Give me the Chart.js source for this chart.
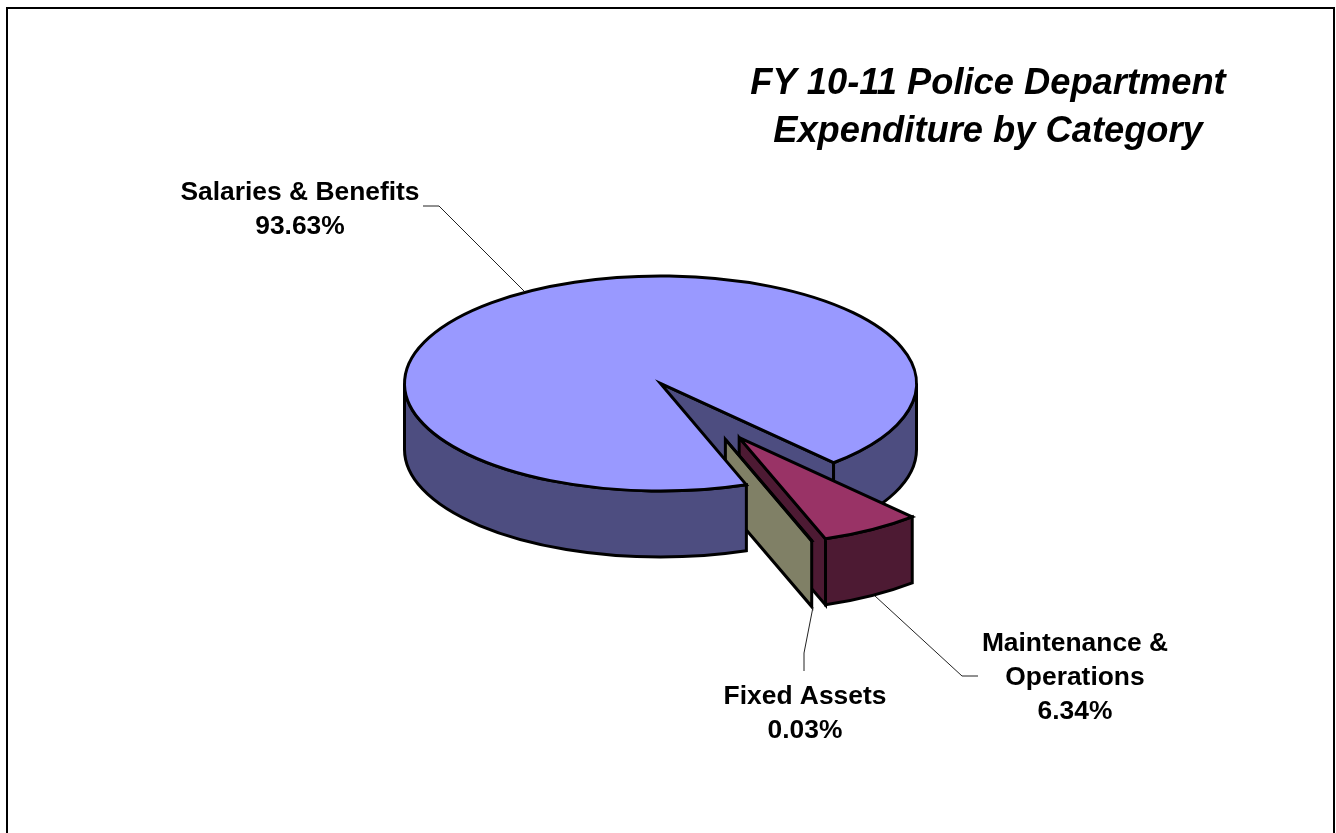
<!DOCTYPE html>
<html>
<head>
<meta charset="utf-8">
<title>FY 10-11 Police Department Expenditure by Category</title>
<script src="https://cdn.jsdelivr.net/npm/chart.js@4/dist/chart.umd.min.js"></script>
<style>
  html, body { margin: 0; padding: 0; background: #fff; }
  canvas { display: block; }
</style>
</head>
<body>
<canvas id="pie" width="1336" height="833"></canvas>
<script>
// Expenditure shares, in percent
const categories = ['Salaries & Benefits', 'Maintenance & Operations', 'Fixed Assets'];
const shares = [93.63, 6.34, 0.03];

// Slice colours: top face and darker side face
const topColors = ['#9999FF', '#993366', '#FFFFCC'];
const sideColors = ['#4D4D80', '#4D1A33', '#808066'];

// Label text lines, anchors and leader lines
const labelLines = [['Salaries & Benefits'], ['Maintenance &', 'Operations'], ['Fixed Assets']];
const labelAnchors = [[300, 192.5, 34], [1075, 643.5, 34], [805, 696.5, 34]];
const leaders = [
  [[423, 206], [439, 206], [524, 291]],
  [[875, 596], [962, 676], [978, 676]],
  [[813, 607], [804, 653], [804, 671]]
];

// Pie projection
const SQUASH = 0.42;
const DEPTH = 66;
const explodeAngle = [0, 58.6, 64];
const explodeDist = [0, 151, 148];
const TWO_PI = Math.PI * 2;

function sliceGeometry(arc, i) {
  const p = arc.getProps(['x', 'y', 'startAngle', 'endAngle', 'outerRadius'], true);
  const a = explodeAngle[i] * Math.PI / 180;
  return {
    x: p.x + Math.cos(a) * explodeDist[i],
    y: p.y + Math.sin(a) * explodeDist[i] * SQUASH,
    r: p.outerRadius,
    start: p.startAngle,
    end: p.endAngle
  };
}

function rim(g, angle) {
  return [g.x + Math.cos(angle) * g.r, g.y + Math.sin(angle) * g.r * SQUASH];
}

function paint(ctx, fill) {
  ctx.fillStyle = fill;
  ctx.fill();
  ctx.stroke();
}

// Outer wall of a slice between two angles
function drawWall(ctx, g, from, to, fill) {
  if (to <= from) return;
  const b = rim(g, to);
  ctx.beginPath();
  ctx.ellipse(g.x, g.y, g.r, g.r * SQUASH, 0, from, to);
  ctx.lineTo(b[0], b[1] + DEPTH);
  ctx.ellipse(g.x, g.y + DEPTH, g.r, g.r * SQUASH, 0, to, from, true);
  ctx.closePath();
  paint(ctx, fill);
}

// Radial cut face running from the slice apex to the rim
function drawCut(ctx, g, angle, fill) {
  const e = rim(g, angle);
  ctx.beginPath();
  ctx.moveTo(g.x, g.y);
  ctx.lineTo(e[0], e[1]);
  ctx.lineTo(e[0], e[1] + DEPTH);
  ctx.lineTo(g.x, g.y + DEPTH);
  ctx.closePath();
  paint(ctx, fill);
}

function drawTop(ctx, g, fill) {
  ctx.beginPath();
  ctx.moveTo(g.x, g.y);
  ctx.ellipse(g.x, g.y, g.r, g.r * SQUASH, 0, g.start, g.end);
  ctx.closePath();
  paint(ctx, fill);
}

const pie3d = {
  id: 'pie3d',
  beforeDraw(chart) {
    const ctx = chart.ctx;
    ctx.save();
    ctx.fillStyle = '#fff';
    ctx.fillRect(0, 0, chart.width, chart.height);
    ctx.strokeStyle = '#000';
    ctx.lineWidth = 2;
    ctx.strokeRect(7, 8, 1327, 840);
    ctx.restore();
  },
  beforeDatasetDraw(chart) {
    const ctx = chart.ctx;
    const arcs = chart.getDatasetMeta(0).data;
    const [main, maint, fixed] = arcs.map(sliceGeometry);

    ctx.save();
    ctx.strokeStyle = '#000';
    ctx.lineWidth = 3;
    ctx.lineJoin = 'miter';
    ctx.miterLimit = 6;

    // Rear pieces of the large slice
    drawCut(ctx, main, main.end, sideColors[0]);
    drawWall(ctx, main, TWO_PI, main.end, sideColors[0]);

    // Pulled-out slices; blunt corners on the wide one
    ctx.miterLimit = 3;
    drawCut(ctx, maint, maint.end, sideColors[1]);
    drawWall(ctx, maint, maint.start, maint.end, sideColors[1]);
    drawTop(ctx, maint, topColors[1]);
    ctx.miterLimit = 6;
    drawCut(ctx, fixed, fixed.start, sideColors[2]);
    drawTop(ctx, fixed, topColors[2]);

    // Front of the large slice overlaps the apex of the thin slice
    drawWall(ctx, main, main.start, Math.PI, sideColors[0]);
    drawTop(ctx, main, topColors[0]);
    ctx.restore();
    return false;
  },
  afterDraw(chart) {
    const ctx = chart.ctx;
    ctx.save();

    ctx.strokeStyle = '#222';
    ctx.lineWidth = 1;
    leaders.forEach(pts => {
      ctx.beginPath();
      pts.forEach((p, i) => i ? ctx.lineTo(p[0], p[1]) : ctx.moveTo(p[0], p[1]));
      ctx.stroke();
    });

    ctx.fillStyle = '#000';
    ctx.textAlign = 'center';
    ctx.textBaseline = 'middle';

    ctx.font = 'italic bold 36.3px "Liberation Sans", Arial, sans-serif';
    ctx.fillText('FY 10-11 Police Department', 988, 84);
    ctx.fillText('Expenditure by Category', 988, 132);

    ctx.font = 'bold 26.4px "Liberation Sans", Arial, sans-serif';
    labelLines.forEach((lines, i) => {
      const [x, y, step] = labelAnchors[i];
      const rows = lines.concat(shares[i].toFixed(2) + '%');
      rows.forEach((t, n) => ctx.fillText(t, x, y + n * step));
    });
    ctx.restore();
  }
};

new Chart(document.getElementById('pie'), {
  type: 'pie',
  data: {
    labels: categories,
    datasets: [{ data: shares, backgroundColor: topColors, borderWidth: 0 }]
  },
  options: {
    responsive: false,
    animation: false,
    rotation: 160.4,
    radius: 256,
    layout: { padding: { left: 0, right: 15, top: 0, bottom: 66 } },
    plugins: { legend: { display: false }, tooltip: { enabled: false }, title: { display: false } }
  },
  plugins: [pie3d]
});
</script>
</body>
</html>
